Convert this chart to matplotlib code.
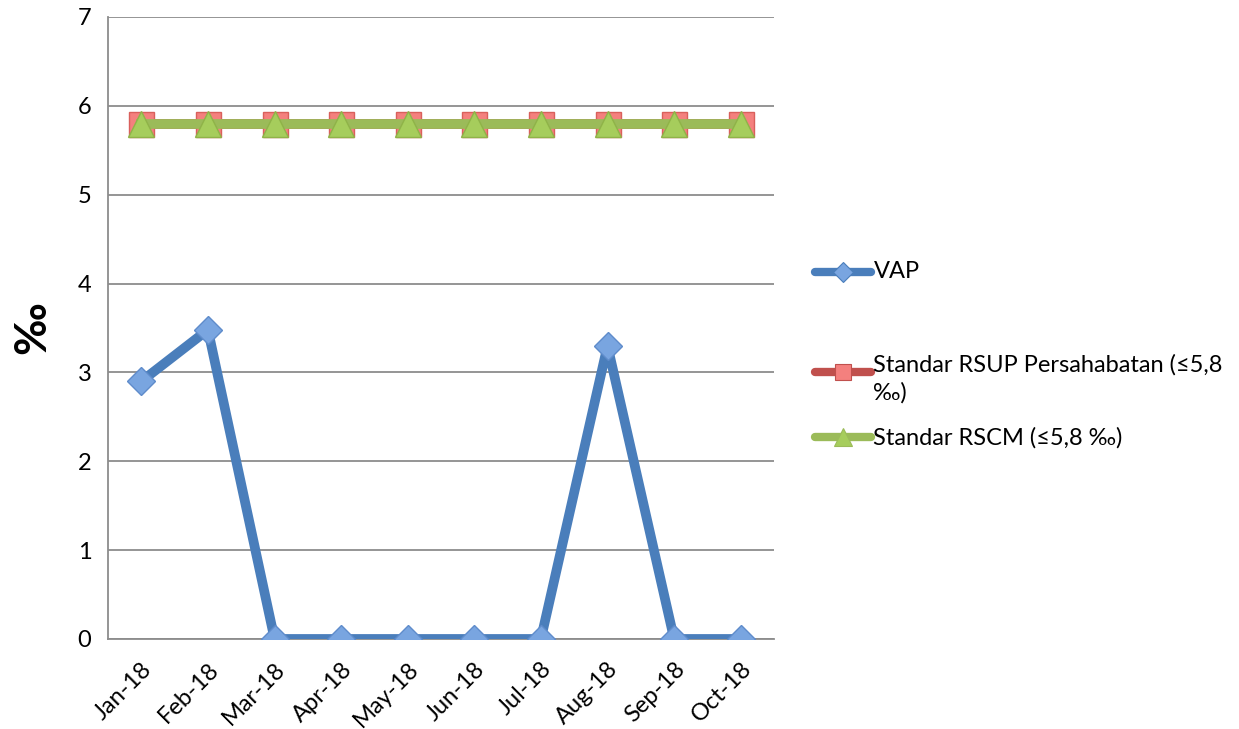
import matplotlib
matplotlib.use("Agg")
from matplotlib import pyplot as plt
from matplotlib.lines import Line2D

months = ["Jan-18", "Feb-18", "Mar-18", "Apr-18", "May-18",
          "Jun-18", "Jul-18", "Aug-18", "Sep-18", "Oct-18"]
vap = [2.9, 3.48, 0, 0, 0, 0, 0, 3.3, 0, 0]
std_rsup = [5.8] * 10
std_rscm = [5.8] * 10
labels = ["VAP", "Standar RSUP Persahabatan (≤5,8\n‰)", "Standar RSCM (≤5,8 ‰)"]

plt.rcParams["font.family"] = ["Lato", "DejaVu Sans"]

fig = plt.figure(figsize=(12.39, 7.29), dpi=100)
ax = fig.add_axes([0.0872, 0.1235, 0.5375, 0.8532])

xs = range(len(months))
blue = "#4A7EBB"
red = "#C0504D"
green = "#9BBB59"

ax.plot(xs, std_rsup, color=red, lw=7, marker="s", markersize=18,
        markerfacecolor="#F4807E", markeredgecolor="#D9605C", markeredgewidth=1, zorder=3)
ax.plot(xs, std_rscm, color=green, lw=7, marker="^", markersize=19,
        markerfacecolor="#A6CD5C", markeredgecolor="#8FB348", markeredgewidth=1, zorder=4)
ax.plot(xs, vap, color=blue, lw=7, marker="D", markersize=14,
        markerfacecolor="#79A5E0", markeredgecolor="#5F8CCB", markeredgewidth=1, zorder=5)

ax.set_xlim(-0.5, 9.5)
ax.set_ylim(0, 7)
ax.set_yticks(range(8))
ax.set_xticks(list(xs))
ax.set_xticklabels(months, rotation=45, ha="right", rotation_mode="anchor")
ax.tick_params(axis="both", length=0, labelsize=17, pad=12)
ax.tick_params(axis="x", pad=14)
ax.grid(axis="y", color="#8C8C8C", lw=1.3)
ax.set_axisbelow(True)
for s in ["top", "right"]:
    ax.spines[s].set_visible(False)
for s in ["left", "bottom"]:
    ax.spines[s].set_color("#8C8C8C")
    ax.spines[s].set_linewidth(1.3)

ax.set_ylabel("‰", fontsize=32, fontweight="bold", labelpad=18)

# legend drawn by hand to get Excel-like spacing
entries = [
    (blue, "D", "#79A5E0", 10, labels[0], 0.627),
    (red, "s", "#F4807E", 12, labels[1], 0.49),
    (green, "^", "#A6CD5C", 13, labels[2], 0.40),
]
for col, mk, fc, ms, lab, y in entries:
    fig.add_artist(Line2D([0.658, 0.703], [y, y], transform=fig.transFigure,
                          color=col, lw=6, solid_capstyle="round"))
    fig.add_artist(Line2D([0.6805], [y], transform=fig.transFigure, marker=mk,
                          markersize=ms, markerfacecolor=fc, markeredgecolor=col,
                          markeredgewidth=0.8, lw=0))
    va = "top" if "\n" in lab else "center"
    yy = y + 0.024 if "\n" in lab else y
    fig.text(0.705, yy, lab, fontsize=17, va=va, ha="left", linespacing=1.35)

fig.savefig("out.png", dpi=100)
